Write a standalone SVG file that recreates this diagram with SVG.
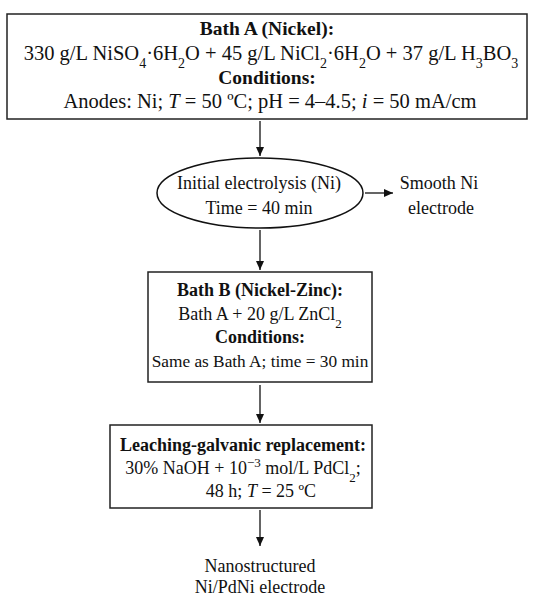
<svg xmlns="http://www.w3.org/2000/svg" width="539" height="600" viewBox="0 0 539 600">
<style>
  text { font-family: "Liberation Serif", "Times New Roman", serif; font-size: 18px; fill: #111; text-anchor: middle; }
  .a { font-size: 20.5px; }
  .ab { font-size: 19.5px; font-weight: bold; }
  .b { font-weight: bold; }
  .i { font-style: italic; }
  .s { font-size: 17.3px; }
  .sub { font-size: 13px; baseline-shift: sub; }
  .a .sub { font-size: 14px; }
  .sup { font-size: 13px; baseline-shift: super; }
  .box { fill: #fff; stroke: #222; stroke-width: 1.5; }
  .line { stroke: #111; stroke-width: 1.3; fill: none; marker-end: url(#ah); }
</style>
<defs>
  <marker id="ah" markerWidth="9" markerHeight="8" refX="9" refY="4" orient="auto" markerUnits="userSpaceOnUse">
    <path d="M0,0 L9,4 L0,8 Z" fill="#111"/>
  </marker>
</defs>
<rect width="539" height="600" fill="#fff"/>
<g id="bathA">
  <rect class="box" x="7" y="14" width="520" height="105"/>
  <text x="267" y="35" class="ab">Bath A (Nickel):</text>
  <text x="271" y="60" class="a">330 g/L NiSO<tspan class="sub">4</tspan>·6H<tspan class="sub">2</tspan>O + 45 g/L NiCl<tspan class="sub">2</tspan>·6H<tspan class="sub">2</tspan>O + 37 g/L H<tspan class="sub">3</tspan>BO<tspan class="sub">3</tspan></text>
  <text x="267" y="84" class="ab">Conditions:</text>
  <text x="270" y="108" class="a">Anodes: Ni; <tspan class="i">T</tspan> = 50 ºC; pH = 4–4.5; <tspan class="i">i</tspan> = 50 mA/cm</text>
</g>
<g id="initial">
  <ellipse cx="260" cy="193" rx="103" ry="35" fill="#fff" stroke="#111" stroke-width="1.5"/>
  <text x="259" y="189">Initial electrolysis (Ni)</text>
  <text x="259" y="214">Time = 40 min</text>
</g>
<g id="smooth">
  <text x="439" y="189">Smooth Ni</text>
  <text x="441" y="214">electrode</text>
</g>
<g id="bathB">
  <rect class="box" x="148" y="272" width="224" height="110"/>
  <text x="260" y="296" class="b">Bath B (Nickel-Zinc):</text>
  <text x="260" y="320">Bath A + 20 g/L ZnCl<tspan class="sub">2</tspan></text>
  <text x="260" y="343" class="b">Conditions:</text>
  <text x="260" y="367" class="s">Same as Bath A; time = 30 min</text>
</g>
<g id="leaching">
  <rect class="box" x="110" y="425" width="262" height="83"/>
  <text x="243" y="451" class="b">Leaching-galvanic replacement:</text>
  <text x="243" y="474">30% NaOH + 10<tspan class="sup">−3</tspan> mol/L PdCl<tspan class="sub">2</tspan>;</text>
  <text x="261" y="497">48 h; <tspan class="i">T</tspan> = 25 ºC</text>
</g>
<g id="product">
  <text x="260" y="572">Nanostructured</text>
  <text x="260" y="593">Ni/PdNi electrode</text>
</g>
<g id="connectors">
  <line class="line" x1="260" y1="121" x2="260" y2="156"/>
  <line class="line" x1="365" y1="193" x2="393" y2="193"/>
  <line class="line" x1="260" y1="230" x2="260" y2="270"/>
  <line class="line" x1="260" y1="385" x2="260" y2="423"/>
  <line class="line" x1="260" y1="510" x2="260" y2="546"/>
</g>
</svg>
